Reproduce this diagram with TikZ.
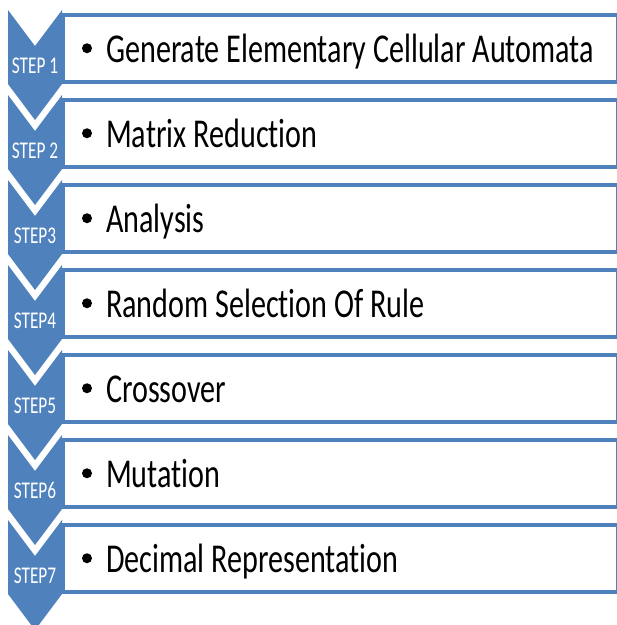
\documentclass[tikz,border=0pt]{standalone}
\usepackage{fontspec}
\setmainfont[Ligatures=NoCommon]{Carlito}
\definecolor{stepblue}{RGB}{79,129,189}
\tikzset{
  chevron/.style={fill=stepblue, draw=none},
  itembox/.style={draw=stepblue, line width=4pt, fill=white, rectangle,
    inner sep=0pt, minimum width=555pt, minimum height=66.5pt},
  steplabel/.style={text=white, inner sep=0pt, anchor=base,
    font=\fontsize{24}{28}\selectfont},
  itemtext/.style={text=black, inner sep=0pt, anchor=base west,
    font=\fontsize{41}{49}\selectfont},
  bullet/.style={fill=black, circle, inner sep=0pt, minimum size=10pt}
}
\newcommand{\narrow}[1]{\scalebox{0.735}[1]{#1}}
\newcommand{\narrowstep}[1]{\scalebox{0.72}[1]{#1}}
\begin{document}
\begin{tikzpicture}[x=1pt,y=-1pt]
  \useasboundingbox (0,0) rectangle (617,625);
  \fill[white] (0,0) rectangle (617,625);
  % left column: one downward chevron per step
  \foreach \i in {1,...,7} {
    \pgfmathsetmacro{\t}{10+85*(\i-1)}
    \fill[chevron] (8,\t) -- (35,\t+36) -- (62,\t) -- (62,\t+74)
      -- (35,\t+110) -- (8,\t+74) -- cycle;
  }
  % right column: one framed box per step, with its bullet item
  \foreach \i/\lab/\txt in {
      1/STEP 1/Generate Elementary Cellular Automata,
      2/STEP 2/Matrix Reduction,
      3/STEP3/Analysis,
      4/STEP4/Random Selection Of Rule,
      5/STEP5/Crossover,
      6/STEP6/Mutation,
      7/STEP7/Decimal Representation} {
    \pgfmathsetmacro{\c}{48.25+85*(\i-1)}
    \node[itembox] (box\i) at (340.5,\c) {};
    \node[steplabel] (step\i) at (35,\c+25) {\narrowstep{\lab}};
    \node[bullet] (dot\i) at (87,\c) {};
    \node[itemtext] (item\i) at (106,\c+14) {\narrow{\txt}};
  }
\end{tikzpicture}
\end{document}
